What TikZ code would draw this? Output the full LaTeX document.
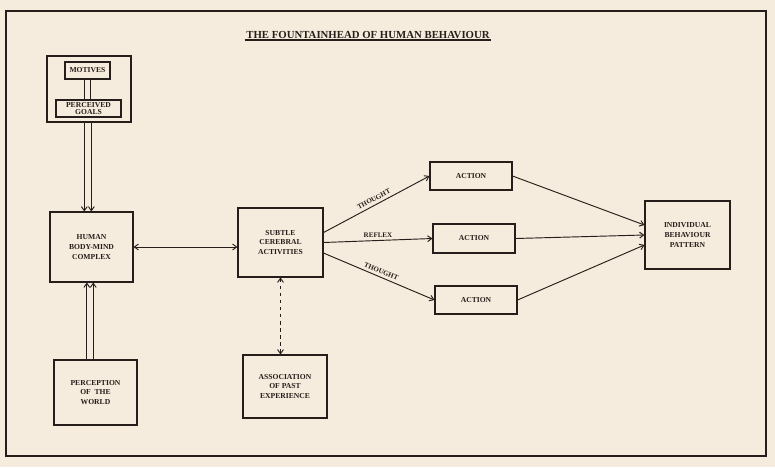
\documentclass[tikz,border=0pt]{standalone}
\usepackage{fontspec}
\setmainfont{Liberation Serif}
\usetikzlibrary{arrows.meta,calc}

\definecolor{paper}{RGB}{246,236,221}
\definecolor{ink}{RGB}{38,30,26}

\tikzset{
  box/.style={draw=ink,line width=0.9pt,inner sep=1pt,align=center,text=ink,
    font=\fontsize{6.5}{8.5}\selectfont\bfseries},
  lbl/.style={inner sep=1.5pt,text=ink,font=\fontsize{6}{6}\selectfont\bfseries},
  tip/.style={-{Straight Barb[length=3.5pt,width=5pt]}},
  arr/.style={draw=ink,line width=0.8pt,tip},
  twoway/.style={draw=ink,line width=0.8pt,
    {Straight Barb[length=3.5pt,width=5pt]}-{Straight Barb[length=3.5pt,width=5pt]}},
}

\begin{document}
\begin{tikzpicture}[x=0.03cm,y=-0.03cm]
\fill[paper] (0,0) rectangle (775,467);
\useasboundingbox (0,0) rectangle (775,467);
\draw[ink,line width=1.2pt] (6,11) rectangle (766,456);

\node[text=ink,inner sep=1.2pt,font=\fontsize{9.2}{11}\selectfont\bfseries] (title) at (368,35) {THE FOUNTAINHEAD OF HUMAN BEHAVIOUR};
\draw[ink,line width=1.8pt] (title.south west) -- (title.south east);

\node[box,minimum width=2.52cm,minimum height=1.98cm] (grp) at (89,89) {};
\node[box,minimum width=1.35cm,minimum height=0.51cm] (motives) at (87.5,70.5) {MOTIVES};
\node[box,minimum width=1.95cm,minimum height=0.51cm,font=\fontsize{6.5}{5.5}\selectfont\bfseries] (goals) at (88.5,108.5) {PERCEIVED\\GOALS};
\node[box,minimum width=2.49cm,minimum height=2.1cm] (human) at (91.5,247) {HUMAN\\BODY-MIND\\COMPLEX};
\node[box,minimum width=2.49cm,minimum height=1.95cm] (percep) at (95.5,392.5) {PERCEPTION\\OF\ \ THE\\WORLD};
\node[box,minimum width=2.55cm,minimum height=2.07cm] (subtle) at (280.5,242.5) {SUBTLE\\CEREBRAL\\ACTIVITIES};
\node[box,minimum width=2.52cm,minimum height=1.89cm] (assoc) at (285,386.5) {ASSOCIATION\\OF PAST\\EXPERIENCE};
\node[box,minimum width=2.46cm,minimum height=0.84cm] (act1) at (471,176) {ACTION};
\node[box,minimum width=2.46cm,minimum height=0.87cm] (act2) at (474,238.5) {ACTION};
\node[box,minimum width=2.46cm,minimum height=0.84cm] (act3) at (476,300) {ACTION};
\node[box,minimum width=2.55cm,minimum height=2.04cm] (indiv) at (687.5,235) {INDIVIDUAL\\BEHAVIOUR\\PATTERN};

\draw[ink,line width=0.8pt] ($(motives.south)+(-2.5pt,0)$) -- ($(motives.south|-goals.north)+(-2.5pt,0)$);
\draw[ink,line width=0.8pt] ($(motives.south)+(2.5pt,0)$) -- ($(motives.south|-goals.north)+(2.5pt,0)$);
\draw[arr] ($(grp.south)+(-4pt,0)$) -- ($(grp.south|-human.north)+(-4pt,0)$);
\draw[arr] ($(grp.south)+(2pt,0)$) -- ($(grp.south|-human.north)+(2pt,0)$);
\draw[arr] ($(human.south|-percep.north)+(-4pt,0)$) -- ($(human.south)+(-4pt,0)$);
\draw[arr] ($(human.south|-percep.north)+(1.5pt,0)$) -- ($(human.south)+(1.5pt,0)$);
\draw[twoway] (human.east) -- (human.east-|subtle.west);
\draw[twoway,dashed] (subtle.south) -- (subtle.south|-assoc.north);

\draw[arr] ([yshift=8.5pt]subtle.east) -- node[lbl,sloped,above=1pt] {THOUGHT} (act1.west);
\draw[arr] (subtle.east) -- node[lbl,above=1pt] {REFLEX} (act2.west);
\draw[arr] ([yshift=-9pt]subtle.east) -- node[lbl,sloped,above=1pt] {THOUGHT} (act3.west);

\draw[arr] (act1.east) -- ([yshift=8.5pt]indiv.west);
\draw[arr] (act2.east) -- (indiv.west);
\draw[arr] (act3.east) -- ([yshift=-8.5pt]indiv.west);
\end{tikzpicture}
\end{document}
